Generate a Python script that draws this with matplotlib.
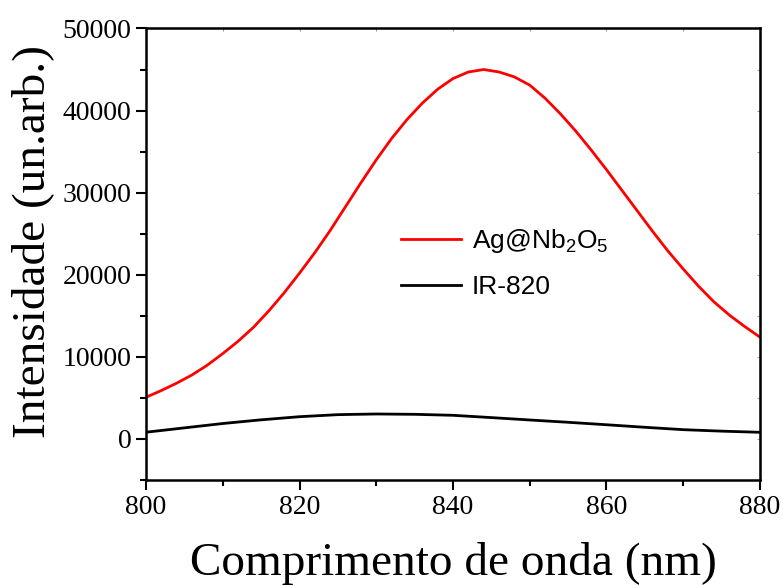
import matplotlib.pyplot as plt

# emission spectra
wavelength = [800, 802, 804, 806, 808, 810, 812, 814, 816, 818, 820, 822, 824, 826, 828, 830,
              832, 834, 836, 838, 840, 842, 844, 846, 848, 850, 852, 854, 856, 858, 860, 862,
              864, 866, 868, 870, 872, 874, 876, 878, 880]
ag_nb2o5 = [5080, 5900, 6800, 7800, 9000, 10400, 11900, 13600, 15600, 17800, 20200, 22700,
            25400, 28300, 31200, 34000, 36600, 38900, 40900, 42600, 43900, 44700, 45000, 44700,
            44100, 43100, 41500, 39600, 37500, 35200, 32800, 30300, 27800, 25300, 22900, 20700,
            18600, 16700, 15100, 13700, 12400]
ir_wl = [800, 805, 810, 815, 820, 825, 830, 835, 840, 845, 850, 855, 860, 865, 870, 875, 880]
ir820 = [820, 1350, 1880, 2330, 2710, 2960, 3040, 3000, 2880, 2600, 2310, 2030, 1730, 1420,
         1130, 950, 810]

plt.rcParams['font.family'] = 'Liberation Serif'
plt.rcParams['mathtext.fontset'] = 'custom'
plt.rcParams['mathtext.rm'] = 'Liberation Sans'

fig = plt.figure(figsize=(7.83, 5.86), dpi=100)
ax = fig.add_axes([0.1865, 0.1809, 0.7841, 0.7705])

ax.plot(wavelength, ag_nb2o5, color="red", lw=2, label="Ag@Nb$_\\mathrm{2}$O$_\\mathrm{5}$")
ax.plot(ir_wl, ir820, color="black", lw=2, label="IR-820")

ax.set_xlim(800, 880)
ax.set_ylim(-5000, 50000)
ax.set_xticks([800, 820, 840, 860, 880])
ax.set_xticks([810, 830, 850, 870], minor=True)
ax.set_yticks(range(0, 50001, 10000))
ax.set_yticks(range(-5000, 50000, 10000), minor=True)
ax.tick_params(which="major", direction="out", length=7, width=1.5, labelsize=20)
ax.tick_params(which="minor", direction="out", length=4, width=1.5)
for s in ax.spines.values():
    s.set_linewidth(1.8)

# faint inner ticks on top and right
sec_x = ax.secondary_xaxis("top")
sec_x.set_xticks(range(800, 881, 10), labels=[])
sec_x.tick_params(direction="in", length=2, width=0.6, color="#888888")
sec_y = ax.secondary_yaxis("right")
sec_y.set_yticks(range(-5000, 50001, 5000), labels=[])
sec_y.tick_params(direction="in", length=2, width=0.6, color="#888888")

ax.set_xlabel("Comprimento de onda (nm)", fontsize=34, labelpad=16)
ax.set_ylabel("Intensidade (un.arb.)", fontsize=34, labelpad=6)
ax.yaxis.label.set_y(0.528)

leg = ax.legend(loc="upper left", bbox_to_anchor=(0.376, 0.613), frameon=False,
                prop={"family": "Liberation Sans", "size": 19}, handlelength=2.3,
                handletextpad=0.4, labelspacing=0.75)

fig.savefig("out.png", dpi=100)
